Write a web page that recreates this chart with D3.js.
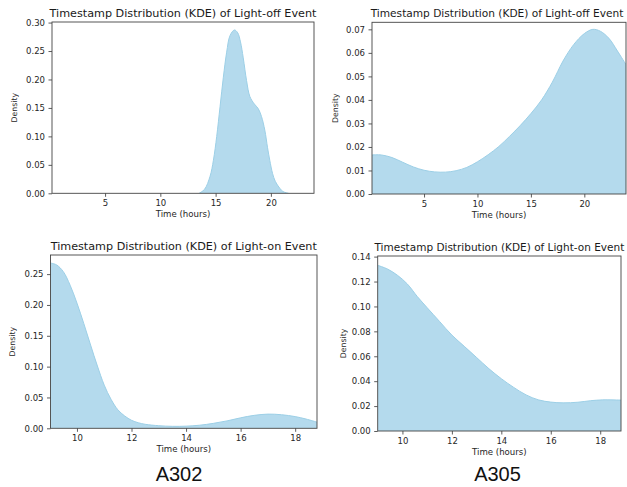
<!DOCTYPE html>
<html>
<head>
<meta charset="utf-8">
<script src="https://cdn.jsdelivr.net/npm/d3@7"></script>
<style>
  body { margin: 0; background: #fff; }
  svg { display: block; font-family: "DejaVu Sans", sans-serif; }
  .tick text { fill: #262626; }
</style>
</head>
<body>
<svg id="chart" width="627" height="487"></svg>
<script>
// KDE curves (hour, density)
var offHoursA302   = [13.5, 14.0, 14.5, 14.8, 15.1, 15.4, 15.7, 16.0, 16.3, 16.7, 17.0, 17.25, 17.5, 17.8, 18.1, 18.5, 18.85, 19.15, 19.45, 19.7, 19.9, 20.15, 20.4, 20.8, 21.1, 21.6];
var offDensityA302 = [0, 0.007, 0.030, 0.058, 0.100, 0.152, 0.204, 0.248, 0.277, 0.287, 0.282, 0.266, 0.238, 0.198, 0.170, 0.157, 0.149, 0.135, 0.111, 0.080, 0.058, 0.035, 0.021, 0.009, 0.003, 0];

var offHoursA305   = [0.13, 1, 2, 3, 4, 5, 6, 7, 8, 9, 10, 11, 12, 13, 14, 15, 16, 17, 17.5, 18, 19, 20, 20.8, 21.5, 22.3, 23.1, 23.9];
var offDensityA305 = [0.0166, 0.0166, 0.0155, 0.0135, 0.0115, 0.0101, 0.0094, 0.0093, 0.0099, 0.0113, 0.0137, 0.0167, 0.0202, 0.0245, 0.0291, 0.0342, 0.0400, 0.0475, 0.0520, 0.0565, 0.0635, 0.0682, 0.0700, 0.0692, 0.0662, 0.0608, 0.0550];

var onHoursA302   = [9.03, 9.25, 9.5, 9.75, 10.0, 10.25, 10.5, 10.75, 11.0, 11.25, 11.5, 11.75, 12.0, 12.25, 12.5, 13.0, 13.5, 14.0, 14.5, 15.0, 15.5, 16.0, 16.5, 17.0, 17.5, 18.0, 18.4, 18.8];
var onDensityA302 = [0.268, 0.265, 0.254, 0.232, 0.203, 0.170, 0.135, 0.101, 0.070, 0.047, 0.030, 0.020, 0.013, 0.009, 0.0065, 0.0042, 0.0032, 0.0035, 0.005, 0.008, 0.012, 0.017, 0.021, 0.023, 0.022, 0.019, 0.015, 0.010];

var onHoursA305   = [9.0, 9.4, 9.8, 10.2, 10.6, 11.0, 11.5, 12.0, 12.5, 13.0, 13.5, 14.0, 14.5, 15.0, 15.5, 16.0, 16.5, 17.1, 17.6, 18.1, 18.84];
var onDensityA305 = [0.133, 0.130, 0.125, 0.118, 0.108, 0.099, 0.088, 0.077, 0.068, 0.059, 0.050, 0.042, 0.035, 0.029, 0.025, 0.0232, 0.0226, 0.0231, 0.0243, 0.025, 0.0248];

// tick labels
var offTicksX = [5, 10, 15, 20];
var onTicksX = [10, 12, 14, 16, 18];
var offTicksYA302 = [0, 0.05, 0.10, 0.15, 0.20, 0.25, 0.30];
var offTicksYA305 = [0, 0.01, 0.02, 0.03, 0.04, 0.05, 0.06, 0.07];
var onTicksYA302 = [0, 0.05, 0.10, 0.15, 0.20, 0.25];
var onTicksYA305 = [0, 0.02, 0.04, 0.06, 0.08, 0.10, 0.12, 0.14];

var roomLabels = ["A302", "A305"];

var svg = d3.select("#chart");
var fillCol = "#b4daed", edgeCol = "#9ccfe6";

function drawPanel(p, idx) {
    var w = p.x1 - p.x0, h = p.y1 - p.y0;
    var g = svg.append("g").attr("transform", "translate(" + p.x0 + "," + p.y0 + ")");
    var x = d3.scaleLinear().domain(p.xdom).range([0, w]);
    var y = d3.scaleLinear().domain(p.ydom).range([h, 0]);

    var pts = p.hours.map(function(hr, i) { return [hr, p.dens[i]]; });

    g.append("clipPath").attr("id", "clip" + idx)
        .append("rect").attr("width", w).attr("height", h);

    var area = d3.area()
        .x(function(d) { return x(d[0]); })
        .y0(h)
        .y1(function(d) { return y(d[1]); })
        .curve(d3.curveCatmullRom.alpha(0.5));
    var line = d3.line()
        .x(function(d) { return x(d[0]); })
        .y(function(d) { return y(d[1]); })
        .curve(d3.curveCatmullRom.alpha(0.5));

    var cg = g.append("g").attr("clip-path", "url(#clip" + idx + ")");
    cg.append("path").datum(pts).attr("d", area).attr("fill", fillCol);
    cg.append("path").datum(pts).attr("d", line)
        .attr("fill", "none").attr("stroke", edgeCol).attr("stroke-width", 1);

    var xa = g.append("g").attr("transform", "translate(0," + h + ")")
        .call(d3.axisBottom(x).tickValues(p.xticks).tickSize(3.5).tickPadding(3).tickFormat(d3.format("d")));
    var ya = g.append("g")
        .call(d3.axisLeft(y).tickValues(p.yticks).tickSize(3.5).tickPadding(3.5).tickFormat(d3.format(".2f")));
    [xa, ya].forEach(function(a) {
        a.select(".domain").remove();
        a.selectAll("line").attr("stroke", "#333").attr("stroke-width", 0.8);
        a.selectAll("text").attr("font-size", 8.5).attr("font-family", "DejaVu Sans");
    });

    // frame
    g.append("rect").attr("width", w).attr("height", h)
        .attr("fill", "none").attr("stroke", "#444").attr("stroke-width", 0.9);

    g.append("text").attr("x", w / 2 + (p.titleDx || 0)).attr("y", -5)
        .attr("text-anchor", "middle").attr("font-size", p.titleSize).attr("fill", "#1a1a1a")
        .text(p.title);
    g.append("text").attr("x", w / 2).attr("y", h + 24)
        .attr("text-anchor", "middle").attr("font-size", 8.6).attr("fill", "#262626")
        .text("Time (hours)");
    g.append("text")
        .attr("transform", "translate(" + (p.ylabX - p.x0) + "," + (h / 2) + ") rotate(-90)")
        .attr("text-anchor", "middle").attr("font-size", 7.8).attr("fill", "#262626")
        .text("Density");
}

var panels = [
    {x0: 52, x1: 314, y0: 22, y1: 193.3, xdom: [0.2, 23.9], ydom: [0, 0.301],
     hours: offHoursA302, dens: offDensityA302, xticks: offTicksX, yticks: offTicksYA302,
     title: "Timestamp Distribution (KDE) of Light-off Event", titleSize: 11.2, ylabX: 17},
    {x0: 372, x1: 626, y0: 22.3, y1: 194, xdom: [0.13, 23.9], ydom: [0, 0.073],
     hours: offHoursA305, dens: offDensityA305, xticks: offTicksX, yticks: offTicksYA305,
     title: "Timestamp Distribution (KDE) of Light-off Event", titleSize: 10.6, titleDx: -2, ylabX: 338},
    {x0: 50.5, x1: 317, y0: 255, y1: 428.3, xdom: [9.03, 18.8], ydom: [0, 0.281],
     hours: onHoursA302, dens: onDensityA302, xticks: onTicksX, yticks: onTicksYA302,
     title: "Timestamp Distribution (KDE) of Light-on Event", titleSize: 11.2, ylabX: 15},
    {x0: 377.7, x1: 621, y0: 256, y1: 431, xdom: [9.0, 18.84], ydom: [0, 0.1405],
     hours: onHoursA305, dens: onDensityA305, xticks: onTicksX, yticks: onTicksYA305,
     title: "Timestamp Distribution (KDE) of Light-on Event", titleSize: 10.5, ylabX: 346}
];
panels.forEach(drawPanel);

svg.selectAll("text.room").data(roomLabels).enter().append("text")
    .attr("class", "room")
    .attr("x", function(d, i) { return i == 0 ? 179 : 497.5; })
    .attr("y", 481)
    .attr("text-anchor", "middle")
    .attr("font-family", "Liberation Sans, Arial, sans-serif")
    .attr("font-size", 20)
    .attr("fill", "#111")
    .text(function(d) { return d; });
</script>
</body>
</html>
